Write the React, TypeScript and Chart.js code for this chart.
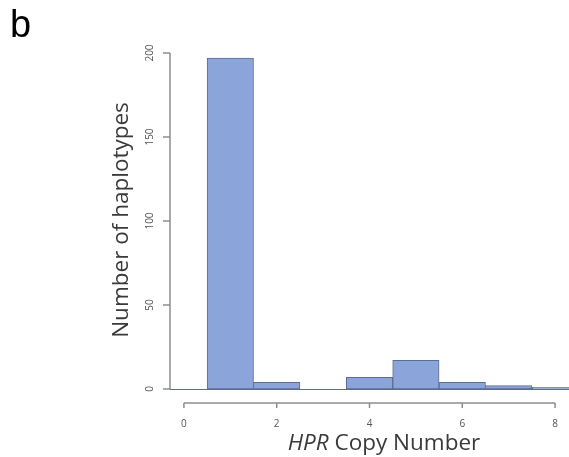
import React, { useEffect, useRef } from "react";
import { Chart, registerables } from "chart.js";

Chart.register(...registerables);

const copyNumbers = [0, 1, 2, 3, 4, 5, 6, 7, 8];
const haplotypeCounts = [0, 197, 4, 0, 7, 17, 4, 2, 1];
const yTicks = [0, 50, 100, 150, 200];
const xTicks = [0, 2, 4, 6, 8];
const panelLabel = "b";
const yTitle = "Number of haplotypes";
const xTitleItalic = "HPR";
const xTitleRest = " Copy Number";

const FONT = '"Open Sans", "DejaVu Sans", sans-serif';
const BAR_FILL = "#8ba4d9";
const BAR_BORDER = "#5d6c95";
const AXIS_COLOR = "#8c8c8c";

const axesPlugin = {
  id: "rAxes",
  beforeDatasetsDraw(chart: any) {
    const { ctx, scales, chartArea } = chart;
    const xs = scales.x;
    const ys = scales.y;
    const y0 = ys.getPixelForValue(0);
    ctx.save();
    ctx.beginPath();
    ctx.rect(chartArea.left, 0, chart.width - chartArea.left, chart.height);
    ctx.clip();
    ctx.strokeStyle = BAR_BORDER;
    ctx.lineWidth = 1;
    ctx.beginPath();
    ctx.moveTo(xs.getPixelForValue(copyNumbers[0] - 0.5), y0 + 0.5);
    ctx.lineTo(xs.getPixelForValue(copyNumbers[copyNumbers.length - 1] + 0.5), y0 + 0.5);
    ctx.stroke();
    ctx.restore();
  },
  afterDraw(chart: any) {
    const { ctx, scales, chartArea } = chart;
    const xs = scales.x;
    const ys = scales.y;
    ctx.save();
    // titles
    ctx.fillStyle = "#3a3a3a";
    ctx.textBaseline = "alphabetic";
    ctx.save();
    ctx.translate(128, 220);
    ctx.rotate(-Math.PI / 2);
    ctx.font = `22.5px ${FONT}`;
    ctx.textAlign = "center";
    ctx.fillText(yTitle, 0, 0);
    ctx.restore();

    const italicFont = `italic 22.5px ${FONT}`;
    const normalFont = `22.5px ${FONT}`;
    ctx.font = italicFont;
    const w1 = ctx.measureText(xTitleItalic).width;
    ctx.font = normalFont;
    const w2 = ctx.measureText(xTitleRest).width;
    const cx = 384;
    const startX = cx - (w1 + w2) / 2;
    ctx.textAlign = "left";
    ctx.font = italicFont;
    ctx.fillText(xTitleItalic, startX, 450);
    ctx.font = normalFont;
    ctx.fillText(xTitleRest, startX + w1, 450);

    // panel label
    ctx.fillStyle = "#000";
    ctx.font = `38px "Liberation Sans", Arial, sans-serif`;
    ctx.fillText(panelLabel, 10, 37);

    // y axis
    const ax = chartArea.left;
    ctx.strokeStyle = AXIS_COLOR;
    ctx.lineWidth = 1.5;
    ctx.beginPath();
    ctx.moveTo(ax, ys.getPixelForValue(yTicks[0]));
    ctx.lineTo(ax, ys.getPixelForValue(yTicks[yTicks.length - 1]));
    ctx.stroke();
    ctx.fillStyle = "#555";
    ctx.font = `10px ${FONT}`;
    ctx.textAlign = "center";
    ctx.textBaseline = "middle";
    yTicks.forEach((t) => {
      const py = ys.getPixelForValue(t);
      ctx.beginPath();
      ctx.moveTo(ax - 7, py);
      ctx.lineTo(ax, py);
      ctx.stroke();
      ctx.save();
      ctx.translate(ax - 20, py);
      ctx.rotate(-Math.PI / 2);
      ctx.fillText(String(t), 0, 0);
      ctx.restore();
    });
    // x axis
    const xy = ys.getPixelForValue(0) + 14;
    ctx.beginPath();
    ctx.moveTo(xs.getPixelForValue(xTicks[0]), xy);
    ctx.lineTo(xs.getPixelForValue(xTicks[xTicks.length - 1]), xy);
    ctx.stroke();
    ctx.font = `10px ${FONT}`;
    ctx.fillStyle = "#555";
    ctx.textAlign = "center";
    ctx.textBaseline = "middle";
    xTicks.forEach((t) => {
      const px = xs.getPixelForValue(t);
      ctx.beginPath();
      ctx.moveTo(px, xy);
      ctx.lineTo(px, xy + 5);
      ctx.stroke();
      ctx.fillText(String(t), px, xy + 21);
    });
    ctx.restore();
  },
};

export default function App() {
  const ref = useRef<HTMLCanvasElement | null>(null);
  useEffect(() => {
    if (!ref.current) return;
    const chart = new Chart(ref.current, {
      type: "bar",
      data: {
        datasets: [
          {
            data: copyNumbers.map((c, i) => ({ x: c, y: haplotypeCounts[i] })),
            backgroundColor: BAR_FILL,
            borderColor: BAR_BORDER,
            borderWidth: 1,
            borderSkipped: false,
            barPercentage: 1,
            categoryPercentage: 1,
          },
        ],
      },
      options: {
        responsive: false,
        animation: false,
        layout: { padding: { left: 170, right: 0, top: 53, bottom: 68 } },
        plugins: { legend: { display: false }, tooltip: { enabled: false }, title: { display: false } },
        scales: {
          x: { type: "linear", min: -0.3, max: 8.3, offset: false, display: false },
          y: { type: "linear", min: 0, max: 200, display: false },
        },
      },
      plugins: [axesPlugin],
    });
    return () => chart.destroy();
  }, []);
  return (
    <div style={{ position: "absolute", left: 0, top: 0, width: 569, height: 457, background: "#fff" }}>
      <canvas ref={ref} width={569} height={457} />
    </div>
  );
}
